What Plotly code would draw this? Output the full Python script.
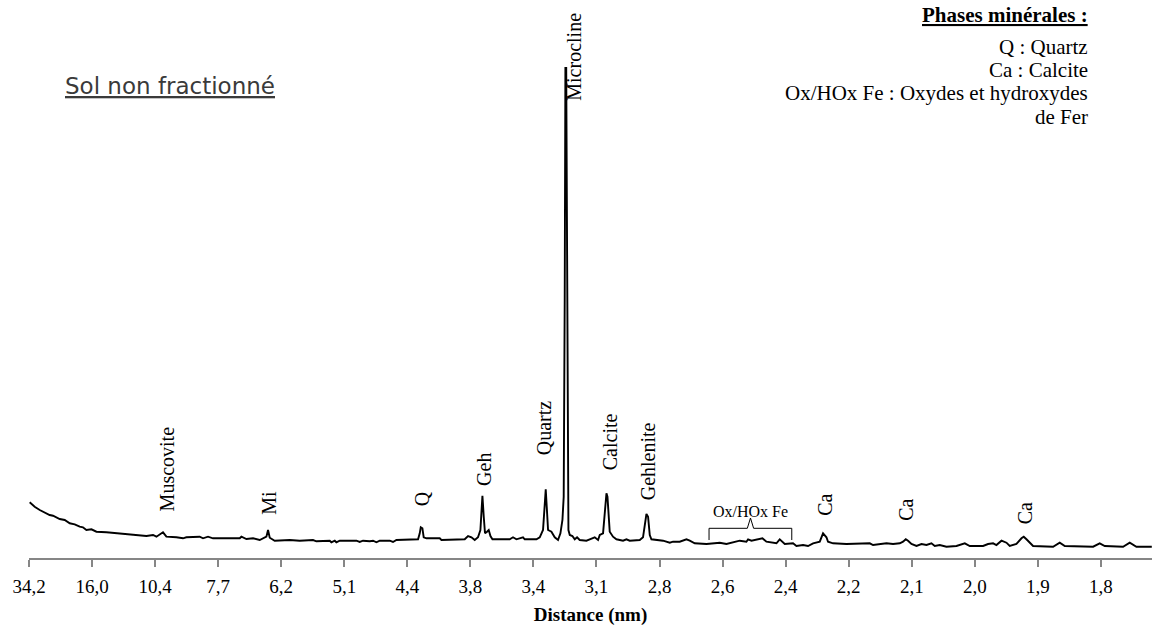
import plotly.graph_objects as go

# Scan position (in tick intervals along the 2-theta scan) and intensity (arbitrary units)
scan_pos = [
    0.011, 0.090, 0.170, 0.249, 0.328, 0.381, 0.435, 0.487, 0.566, 0.646, 0.725, 0.804, 0.856, 0.910,
    0.990, 1.069, 1.228, 1.439, 1.545, 1.649, 1.756, 1.862, 1.967, 2.021, 2.125, 2.179, 2.338, 2.442,
    2.496, 2.707, 2.760, 2.839, 2.918, 3.342, 3.369, 3.448, 3.553, 3.659, 3.765, 3.791, 3.818, 3.897,
    4.135, 4.293, 4.504, 4.558, 4.769, 4.796, 4.849, 4.875, 4.928, 5.193, 5.245, 5.297, 5.404, 5.456,
    5.510, 5.562, 5.721, 5.773, 5.827, 6.170, 6.197, 6.213, 6.239, 6.260, 6.303, 6.514, 6.541, 6.910,
    6.963, 7.017, 7.069, 7.121, 7.159, 7.180, 7.191, 7.212, 7.232, 7.264, 7.291, 7.318, 7.350, 7.624,
    7.676, 7.730, 7.835, 7.862, 8.048, 8.100, 8.152, 8.184, 8.195, 8.211, 8.232, 8.285, 8.338, 8.390,
    8.428, 8.460, 8.480, 8.496, 8.507, 8.520, 8.528, 8.536, 8.544, 8.552, 8.555, 8.576, 8.618, 8.655,
    8.692, 8.734, 8.840, 8.893, 8.972, 9.025, 9.052, 9.104, 9.131, 9.158, 9.174, 9.189, 9.210, 9.262,
    9.316, 9.421, 9.475, 9.527, 9.686, 9.738, 9.770, 9.792, 9.818, 9.845, 9.871, 9.951, 10.056, 10.162,
    10.214, 10.320, 10.427, 10.479, 10.558, 10.744, 10.955, 11.061, 11.166, 11.272, 11.378, 11.404,
    11.458, 11.589, 11.632, 11.695, 11.854, 11.906, 11.933, 11.986, 12.117, 12.171, 12.276, 12.355,
    12.435, 12.541, 12.593, 12.647, 12.672, 12.752, 12.964, 13.228, 13.334, 13.386, 13.492, 13.599,
    13.703, 13.810, 13.862, 13.905, 13.941, 13.995, 14.075, 14.154, 14.233, 14.312, 14.365, 14.444,
    14.550, 14.709, 14.841, 14.920, 15.131, 15.210, 15.290, 15.343, 15.423, 15.502, 15.554, 15.660,
    15.740, 15.776, 15.819, 15.924, 16.241, 16.347, 16.427, 16.876, 16.981, 17.061, 17.351, 17.457,
    17.563, 17.807,
]
intensity = [
    55.7, 51.3, 48.0, 45.7, 43.0, 42.3, 40.3, 39.0, 38.0, 34.7, 33.7, 31.3, 30.7, 28.0,
    28.7, 26.3, 25.7, 24.7, 23.7, 23.0, 23.0, 22.0, 23.0, 21.3, 25.7, 21.3, 20.7, 19.7,
    20.7, 21.3, 19.7, 21.3, 19.7, 19.7, 21.3, 19.0, 19.7, 18.0, 21.3, 28.0, 20.3, 17.3,
    18.0, 17.3, 18.0, 16.7, 17.3, 15.7, 17.3, 15.7, 17.3, 17.3, 16.0, 17.3, 16.7, 17.3,
    15.7, 17.3, 17.3, 16.0, 18.0, 18.7, 24.7, 30.7, 29.7, 20.7, 19.7, 19.7, 18.0, 18.7,
    22.0, 20.7, 18.0, 20.7, 28.0, 54.7, 62.3, 41.3, 24.7, 26.3, 28.0, 22.0, 18.7, 18.7,
    20.7, 18.7, 20.7, 18.7, 18.7, 20.7, 28.0, 58.0, 68.7, 51.3, 28.0, 26.3, 20.7, 18.0,
    24.7, 38.0, 61.3, 258.0, 490.0, 490.0, 358.0, 243.0, 228.0, 58.0, 28.0, 23.0, 22.0, 18.7,
    20.7, 18.0, 17.3, 18.7, 20.7, 18.0, 23.0, 24.7, 48.0, 64.7, 61.3, 41.3, 26.3, 21.3,
    18.7, 17.3, 18.7, 17.3, 18.0, 20.7, 38.0, 44.0, 41.3, 23.0, 18.7, 18.0, 17.3, 15.3,
    16.3, 16.3, 18.7, 17.3, 14.7, 14.0, 15.3, 14.0, 16.0, 17.3, 16.3, 18.7,
    17.3, 18.7, 19.7, 16.3, 14.7, 18.7, 17.3, 14.0, 14.7, 12.0, 13.0, 12.0,
    14.7, 16.3, 24.7, 20.7, 16.3, 14.7, 14.0, 14.0, 14.7, 13.0, 14.0, 14.7,
    14.0, 14.7, 16.3, 18.7, 17.3, 14.0, 12.0, 14.0, 13.0, 14.7, 12.0, 13.0,
    11.3, 12.0, 14.7, 12.0, 12.0, 14.0, 14.7, 13.0, 17.3, 15.3, 12.0, 14.0,
    19.7, 21.3, 18.7, 12.0, 11.3, 15.3, 12.0, 11.3, 14.7, 12.0, 11.3, 15.3,
    11.3, 11.3,
]

# Axis tick labels: d-spacing
tick_labels = ["34,2", "16,0", "10,4", "7,7", "6,2", "5,1", "4,4", "3,8", "3,4",
               "3,1", "2,8", "2,6", "2,4", "2,2", "2,1", "2,0", "1,9", "1,8"]
tick_pos = list(range(len(tick_labels)))

# Peak labels: text, scan position, intensity where the label starts
peak_names = ["Muscovite", "Mi", "Q", "Geh", "Quartz", "Microcline", "Calcite",
              "Gehlenite", "Ca", "Ca", "Ca"]
peak_pos = [2.187, 3.802, 6.228, 7.207, 8.163, 8.639, 9.210, 9.821, 12.620, 13.905, 15.800]
peak_lab_y = [45, 41, 50, 70, 101, 455, 86, 56, 40, 35, 32]

# Ox/HOx Fe range bracket
oxfe_span = [10.785, 12.097]
oxfe_center = 11.442
oxfe_levels = [18, 29.7, 40]   # bracket foot, bar, tip
oxfe_text_y = 46.3

legend_lines = ["<b><u>Phases minérales :</u></b>", "Q : Quartz", "Ca : Calcite",
                "Ox/HOx Fe : Oxydes et hydroxydes", "de Fer"]
legend_y = [0.9909, 0.9330, 0.8905, 0.8480, 0.8042]

serif = "Liberation Serif, Times New Roman, serif"

fig = go.Figure()
fig.add_trace(go.Scatter(x=scan_pos, y=intensity, mode="lines",
                         line=dict(color="black", width=1.9), hoverinfo="skip",
                         showlegend=False))

for name, xp, yp in zip(peak_names, peak_pos, peak_lab_y):
    fig.add_annotation(x=xp, y=yp, xref="x", yref="y", text=name, textangle=-90,
                       showarrow=False, xanchor="center", yanchor="bottom",
                       font=dict(family=serif, size=20, color="black"))

# Bracket
l, r = oxfe_span
foot, bar, tip = oxfe_levels
path = (f"M {l},{foot} L {l},{bar} L {oxfe_center - 0.05},{bar} L {oxfe_center},{tip} "
        f"L {oxfe_center + 0.05},{bar} L {r},{bar} L {r},{foot}")
fig.add_shape(type="path", path=path, xref="x", yref="y",
              line=dict(color="black", width=1))
fig.add_annotation(x=oxfe_center, y=oxfe_text_y, xref="x", yref="y", text="Ox/HOx Fe",
                   showarrow=False, xanchor="center", yanchor="middle",
                   font=dict(family=serif, size=16, color="black"))

for txt, yy in zip(legend_lines, legend_y):
    fig.add_annotation(x=0.9448, y=yy, xref="paper", yref="paper", text=txt,
                       showarrow=False, xanchor="right", yanchor="middle",
                       font=dict(family=serif, size=21, color="black"))

fig.add_annotation(x=0.1256, y=0.8613, xref="paper", yref="paper",
                   text="<u>Sol non fractionné</u>", showarrow=False,
                   xanchor="center", yanchor="middle",
                   font=dict(family="DejaVu Sans", size=23, color="#3a3a3a"))

fig.update_layout(
    width=1152, height=628,
    margin=dict(l=29, r=0, t=10, b=70),
    plot_bgcolor="white", paper_bgcolor="white",
    showlegend=False,
    xaxis=dict(range=[0, 17.81], tickvals=tick_pos, ticktext=tick_labels,
               showline=True, linecolor="#868686", linewidth=1.5,
               ticks="outside", ticklen=7, tickwidth=1.5, tickcolor="#868686",
               ticklabelstandoff=3, showgrid=False, zeroline=False,
               tickfont=dict(family=serif, size=19, color="black"),
               title=dict(text="<b>Distance (nm)</b>", standoff=12,
                          font=dict(family=serif, size=19, color="black"))),
    yaxis=dict(range=[0, 548], visible=False, showgrid=False, zeroline=False),
)

fig.write_html("out.html", config={"displayModeBar": False},
               post_script="document.body.style.margin='0';document.body.style.overflow='hidden';")
